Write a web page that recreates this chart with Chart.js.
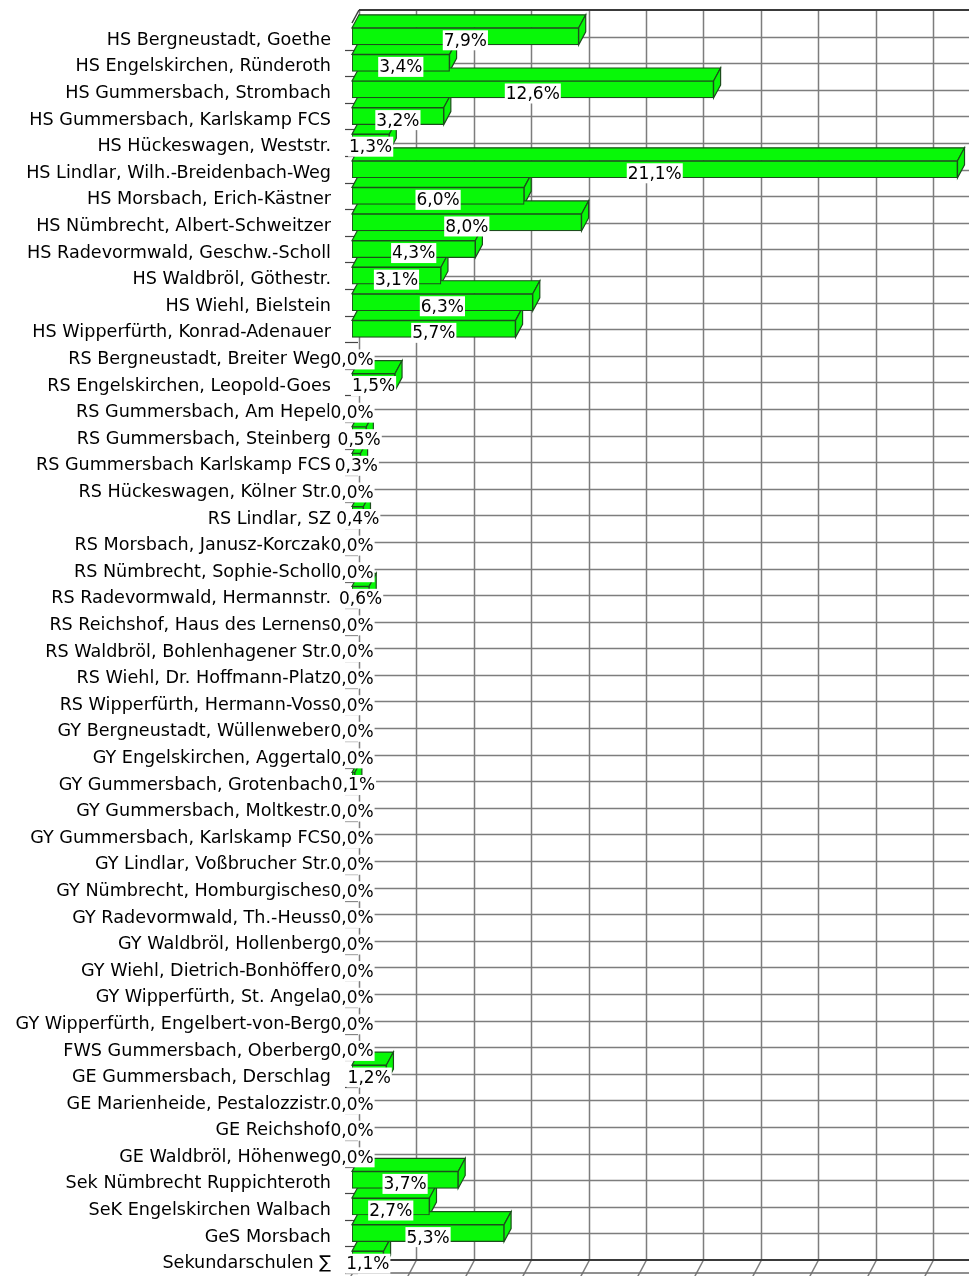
<!DOCTYPE html>
<html>
<head>
<meta charset="utf-8">
<script src="https://cdn.jsdelivr.net/npm/chart.js@4/dist/chart.umd.min.js"></script>
<style>
  html, body { margin: 0; padding: 0; background: #fff; overflow: hidden; }
  #wrap { width: 969px; height: 1276px; position: relative; }
</style>
</head>
<body>
<div id="wrap"><canvas id="c"></canvas></div>
<script>
const categories = [
  "HS Bergneustadt, Goethe",
  "HS Engelskirchen, Ründeroth",
  "HS Gummersbach, Strombach",
  "HS Gummersbach, Karlskamp FCS",
  "HS Hückeswagen, Weststr.",
  "HS Lindlar, Wilh.-Breidenbach-Weg",
  "HS Morsbach, Erich-Kästner",
  "HS Nümbrecht, Albert-Schweitzer",
  "HS Radevormwald, Geschw.-Scholl",
  "HS Waldbröl, Göthestr.",
  "HS Wiehl, Bielstein",
  "HS Wipperfürth, Konrad-Adenauer",
  "RS Bergneustadt, Breiter Weg",
  "RS Engelskirchen, Leopold-Goes",
  "RS Gummersbach, Am Hepel",
  "RS Gummersbach, Steinberg",
  "RS Gummersbach Karlskamp FCS",
  "RS Hückeswagen, Kölner Str.",
  "RS Lindlar, SZ",
  "RS Morsbach, Janusz-Korczak",
  "RS Nümbrecht, Sophie-Scholl",
  "RS Radevormwald, Hermannstr.",
  "RS Reichshof, Haus des Lernens",
  "RS Waldbröl, Bohlenhagener Str.",
  "RS Wiehl, Dr. Hoffmann-Platz",
  "RS Wipperfürth, Hermann-Voss",
  "GY Bergneustadt, Wüllenweber",
  "GY Engelskirchen, Aggertal",
  "GY Gummersbach, Grotenbach",
  "GY Gummersbach, Moltkestr.",
  "GY Gummersbach, Karlskamp FCS",
  "GY Lindlar, Voßbrucher Str.",
  "GY Nümbrecht, Homburgisches",
  "GY Radevormwald, Th.-Heuss",
  "GY Waldbröl, Hollenberg",
  "GY Wiehl, Dietrich-Bonhöffer",
  "GY Wipperfürth, St. Angela",
  "GY Wipperfürth, Engelbert-von-Berg",
  "FWS Gummersbach, Oberberg",
  "GE Gummersbach, Derschlag",
  "GE Marienheide, Pestalozzistr.",
  "GE Reichshof",
  "GE Waldbröl, Höhenweg",
  "Sek Nümbrecht Ruppichteroth",
  "SeK Engelskirchen Walbach",
  "GeS Morsbach",
  "Sekundarschulen ∑"
];
const percentValues = [
  7.9, 3.4, 12.6, 3.2, 1.3, 21.1, 6.0, 8.0, 4.3, 3.1, 6.3, 5.7,
  0.0, 1.5, 0.0, 0.5, 0.3, 0.0, 0.4, 0.0, 0.0, 0.6, 0.0, 0.0, 0.0, 0.0,
  0.0, 0.0, 0.1, 0.0, 0.0, 0.0, 0.0, 0.0, 0.0, 0.0, 0.0, 0.0,
  0.0, 1.2, 0.0, 0.0, 0.0,
  3.7, 2.7, 5.3, 1.1
];
const gridTickValues = [0, 2, 4, 6, 8, 10, 12, 14, 16, 18, 20];

const FONT = "'DejaVu Sans', 'Liberation Sans', Arial, sans-serif";
const GREEN = '#08f808';
const EDGE = '#1d4d1d';
const DX = 7, DY = -13;

function fmt(v) { return v.toFixed(1).replace('.', ',') + '%'; }

const threeD = {
  id: 'threeD',
  beforeDatasetsDraw(chart) {
    const ctx = chart.ctx, a = chart.chartArea;
    const xs = chart.scales.x, ys = chart.scales.y;
    const n = categories.length;
    const bounds = [];
    for (let i = 0; i <= n; i++) {
      if (i === 0) bounds.push(a.top);
      else if (i === n) bounds.push(a.bottom);
      else bounds.push((ys.getPixelForValue(i - 1) + ys.getPixelForValue(i)) / 2);
    }
    ctx.save();
    // back wall horizontal lines
    ctx.strokeStyle = '#7d7d7d';
    ctx.lineWidth = 1.5;
    for (let i = 1; i < n; i++) {
      const y = Math.round(bounds[i] + DY) + 0.5;
      ctx.beginPath(); ctx.moveTo(a.left + DX, y); ctx.lineTo(a.right, y); ctx.stroke();
    }
    // back wall vertical lines
    gridTickValues.forEach(v => {
      const x = Math.round(xs.getPixelForValue(v) + DX) + 0.5;
      ctx.beginPath(); ctx.moveTo(x, a.top + DY); ctx.lineTo(x, a.bottom + DY); ctx.stroke();
      // floor slants
      ctx.beginPath(); ctx.moveTo(x, a.bottom + DY); ctx.lineTo(x - DX - 2, a.bottom + 4); ctx.stroke();
    });
    // wall top, wall bottom, floor front
    ctx.strokeStyle = '#3a3a3a';
    ctx.lineWidth = 2;
    ctx.beginPath(); ctx.moveTo(a.left + DX, a.top + DY); ctx.lineTo(a.right, a.top + DY); ctx.stroke();
    ctx.beginPath(); ctx.moveTo(a.left + DX, a.bottom + DY); ctx.lineTo(a.right, a.bottom + DY); ctx.stroke();
    ctx.lineWidth = 1.5;
    ctx.strokeStyle = '#6a6a6a';
    ctx.beginPath(); ctx.moveTo(a.left, a.bottom); ctx.lineTo(a.right, a.bottom); ctx.stroke();
    ctx.strokeStyle = '#3a3a3a';
    ctx.beginPath(); ctx.moveTo(a.left, a.top); ctx.lineTo(a.left + DX, a.top + DY); ctx.stroke();
    // front tick marks
    ctx.strokeStyle = '#444';
    ctx.lineWidth = 1.2;
    for (let i = 1; i <= n; i++) {
      const y = Math.round(bounds[i]) + 0.5;
      ctx.beginPath(); ctx.moveTo(a.left - 7, y); ctx.lineTo(a.left + 6, y); ctx.stroke();
    }
    // 3D faces of bars
    const meta = chart.getDatasetMeta(0);
    meta.data.forEach(bar => {
      const p = bar.getProps(['x', 'y', 'base', 'height'], true);
      const x0 = p.base, x1 = p.x, top = p.y - p.height / 2, bot = p.y + p.height / 2;
      if (x1 - x0 < 0.5) return;
      ctx.fillStyle = GREEN;
      ctx.strokeStyle = EDGE;
      ctx.lineWidth = 1.2;
      ctx.beginPath();
      ctx.moveTo(x0, top); ctx.lineTo(x1, top); ctx.lineTo(x1 + DX, top + DY); ctx.lineTo(x0 + DX, top + DY);
      ctx.closePath(); ctx.fill(); ctx.stroke();
      ctx.beginPath();
      ctx.moveTo(x1, top); ctx.lineTo(x1 + DX, top + DY); ctx.lineTo(x1 + DX, bot + DY); ctx.lineTo(x1, bot);
      ctx.closePath(); ctx.fill(); ctx.stroke();
    });
    ctx.restore();
  },
  afterDatasetsDraw(chart) {
    const ctx = chart.ctx;
    const meta = chart.getDatasetMeta(0);
    ctx.save();
    ctx.font = '17px ' + FONT;
    ctx.textAlign = 'center';
    ctx.textBaseline = 'middle';
    meta.data.forEach((bar, i) => {
      const p = bar.getProps(['x', 'y', 'base'], true);
      const t = fmt(percentValues[i]);
      const cx = (p.x + p.base) / 2, cy = p.y + 4;
      const w = ctx.measureText(t).width + 2;
      ctx.fillStyle = '#fff';
      ctx.fillRect(cx - w / 2, cy - 10, w, 20);
      ctx.fillStyle = '#000';
      ctx.fillText(t, cx, cy + 1);
    });
    ctx.restore();
  }
};

new Chart(document.getElementById('c'), {
  type: 'bar',
  data: {
    labels: categories,
    datasets: [{
      data: percentValues,
      backgroundColor: GREEN,
      borderColor: EDGE,
      borderWidth: 1.2,
      barThickness: 17,
      borderSkipped: false
    }]
  },
  options: {
    indexAxis: 'y',
    responsive: true,
    maintainAspectRatio: false,
    animation: false,
    devicePixelRatio: 1,
    layout: { padding: { top: 23, bottom: 3, left: 0, right: 0 } },
    plugins: { legend: { display: false }, tooltip: { enabled: false } },
    scales: {
      x: { display: false, min: 0, max: 21.5 },
      y: {
        grid: { display: false, drawTicks: false },
        border: { display: false },
        afterFit(scale) {
          scale.width = 352;
          scale.paddingTop = 0;
          scale.paddingBottom = 0;
        },
        ticks: {
          autoSkip: false,
          padding: 21,
          labelOffset: 4,
          color: '#000',
          font: { family: FONT, size: 17.6 }
        }
      }
    }
  },
  plugins: [threeD]
});
</script>
</body>
</html>
